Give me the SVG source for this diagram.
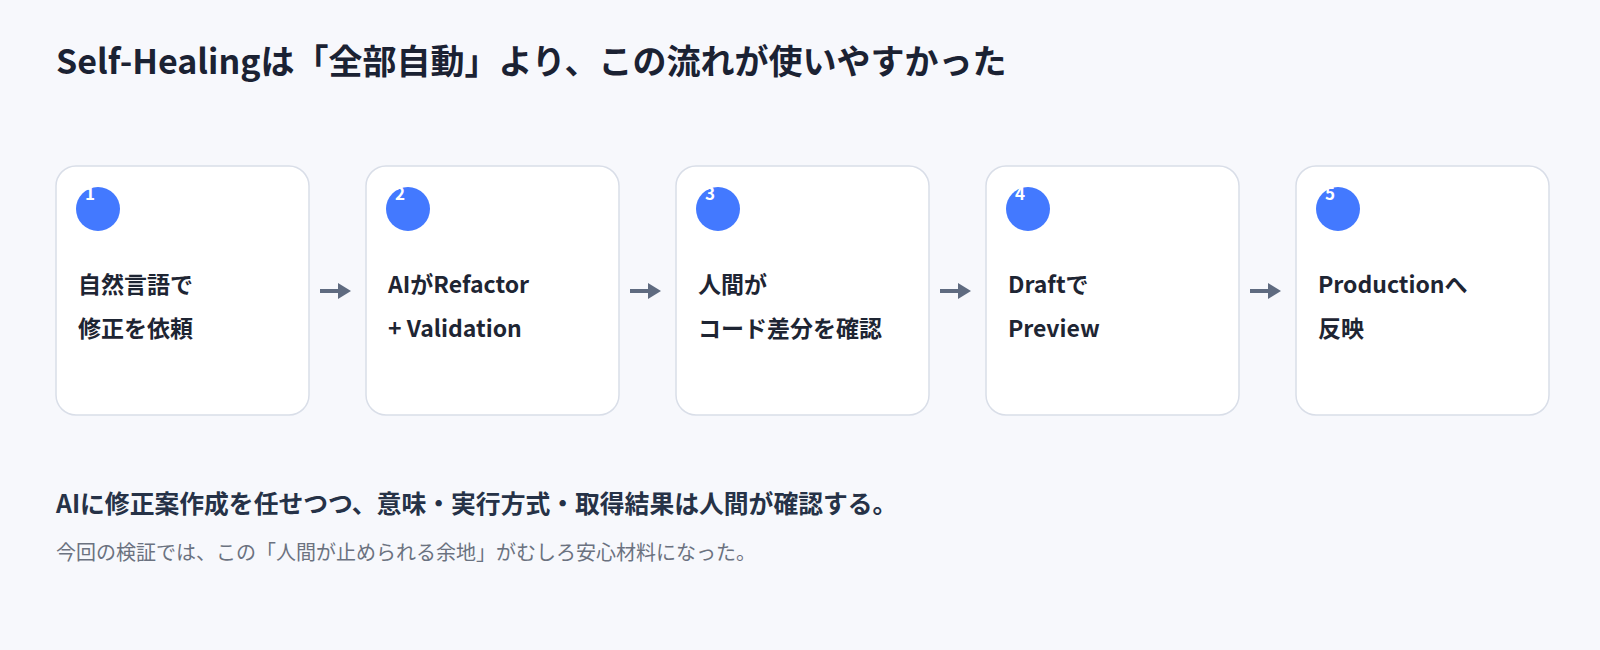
<svg xmlns="http://www.w3.org/2000/svg" width="1600" height="650" viewBox="0 0 1600 650">
<defs>
<style>
text{font-family:"Noto Sans CJK JP","Noto Sans",sans-serif;}
.title{font-size:34px;font-weight:700;fill:#1b2233;}
.card{fill:#ffffff;stroke:#d9dee8;stroke-width:1.5;}
.dot{fill:#4379ff;}
.num{font-size:17px;font-weight:700;fill:#ffffff;text-anchor:middle;}
.lbl{font-size:23px;font-weight:700;fill:#1e2533;}
.arrow{stroke:#5f6b80;stroke-width:4;fill:none;}
.head{fill:#5f6b80;}
.lead{font-size:24.8px;font-weight:700;fill:#263247;}
.note{font-size:20px;font-weight:400;fill:#6b7280;}
</style>
</defs>
<rect width="1600" height="650" fill="#f7f8fc"/>
<text class="title" x="56" y="74">Self-Healingは「全部自動」より、この流れが使いやすかった</text>
<g id="connectors">
<line class="arrow" x1="320" y1="291" x2="340" y2="291"/><polygon class="head" points="338,283 351,291 338,299"/>
<line class="arrow" x1="630" y1="291" x2="650" y2="291"/><polygon class="head" points="648,283 661,291 648,299"/>
<line class="arrow" x1="940" y1="291" x2="960" y2="291"/><polygon class="head" points="958,283 971,291 958,299"/>
<line class="arrow" x1="1250" y1="291" x2="1270" y2="291"/><polygon class="head" points="1268,283 1281,291 1268,299"/>
</g>
<g id="step1">
<rect class="card" x="56" y="166" width="253" height="249" rx="20"/>
<circle class="dot" cx="98" cy="209" r="22"/>
<text class="num" x="90" y="200">1</text>
<text class="lbl" x="78" y="293">自然言語で</text>
<text class="lbl" x="78" y="337">修正を依頼</text>
</g>
<g id="step2">
<rect class="card" x="366" y="166" width="253" height="249" rx="20"/>
<circle class="dot" cx="408" cy="209" r="22"/>
<text class="num" x="400" y="200">2</text>
<text class="lbl" x="388" y="293">AIがRefactor</text>
<text class="lbl" x="388" y="337">+ Validation</text>
</g>
<g id="step3">
<rect class="card" x="676" y="166" width="253" height="249" rx="20"/>
<circle class="dot" cx="718" cy="209" r="22"/>
<text class="num" x="710" y="200">3</text>
<text class="lbl" x="698" y="293">人間が</text>
<text class="lbl" x="698" y="337">コード差分を確認</text>
</g>
<g id="step4">
<rect class="card" x="986" y="166" width="253" height="249" rx="20"/>
<circle class="dot" cx="1028" cy="209" r="22"/>
<text class="num" x="1020" y="200">4</text>
<text class="lbl" x="1008" y="293">Draftで</text>
<text class="lbl" x="1008" y="337">Preview</text>
</g>
<g id="step5">
<rect class="card" x="1296" y="166" width="253" height="249" rx="20"/>
<circle class="dot" cx="1338" cy="209" r="22"/>
<text class="num" x="1330" y="200">5</text>
<text class="lbl" x="1318" y="293">Productionへ</text>
<text class="lbl" x="1318" y="337">反映</text>
</g>
<text class="lead" x="56" y="513">AIに修正案作成を任せつつ、意味・実行方式・取得結果は人間が確認する。</text>
<text class="note" x="56" y="560">今回の検証では、この「人間が止められる余地」がむしろ安心材料になった。</text>
</svg>
